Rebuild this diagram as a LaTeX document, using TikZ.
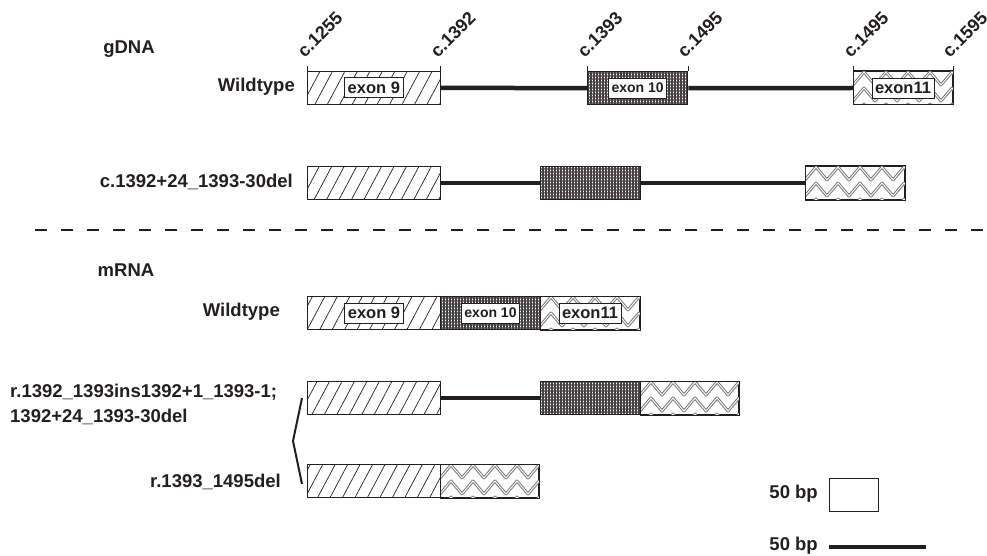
\documentclass[tikz,border=0pt]{standalone}
\usepackage{fontspec}
\setmainfont{Liberation Sans}
\usepackage{tikz}
\usetikzlibrary{patterns.meta}
\definecolor{ink}{RGB}{35,31,32}
\tikzset{
  exon/.style={draw=ink, line width=1pt, minimum height=33pt, inner sep=0pt,
               anchor=north west},
  exnine/.style={exon, preaction={fill=white},
                 pattern={Lines[angle=62, distance=11pt, line width=0.7pt]}, pattern color=ink},
  exten/.style={exon, preaction={fill=white},
                pattern={Hatch[angle=0, distance=3pt, line width=1.3pt]}, pattern color=ink!85},
  exeleven/.style={exon, fill=white},
  zig/.style={draw=ink!60, line width=1pt, double=white, double distance=0.9pt,
              line join=round},
  exlabel/.style={draw=ink, fill=white, line width=0.8pt, minimum height=20pt,
                  inner xsep=3pt, inner ysep=0pt, text=ink},
  intron/.style={draw=ink, line width=4.5pt},
  tick/.style={draw=ink, line width=0.8pt},
  rowlabel/.style={text=ink, inner sep=0pt, font=\bfseries\fontsize{18.5}{25}\selectfont},
  poslabel/.style={text=ink, inner sep=0pt, rotate=45, anchor=south west,
                   font=\bfseries\fontsize{18}{18}\selectfont},
  sep/.style={draw=ink, line width=1.4pt, dash pattern=on 12pt off 14pt},
  bracket/.style={draw=ink, line width=2pt},
}
% zigzag filling of an exon-11 box
\newcommand{\chevrons}[1]{%
  \begin{scope}
    \clip (#1.south west) rectangle (#1.north east);
    \foreach \r in {0,1,2}
      \draw[zig] ([shift={(-11,1+16*\r)}]#1.north west)
        \foreach \k in {0,...,5} { -- ([shift={(22*\k,14+16*\r)}]#1.north west)
                                   -- ([shift={(22*\k+11,1+16*\r)}]#1.north west) };
  \end{scope}
  \draw[ink, line width=1pt] (#1.south west) rectangle (#1.north east);
}
\begin{document}
\begin{tikzpicture}[x=1pt, y=-1pt]
  \clip (0,0) rectangle (987,556);

  % gDNA, wildtype
  \node[rowlabel] (gdna) at (129,49) {gDNA};
  \node[rowlabel, anchor=east] (gwt) at (295,87) {Wildtype};
  \node[exnine, minimum width=133pt] (g9) at (307,71) {};
  \node[exten, minimum width=100pt] (g10) at (587,71) {};
  \node[exeleven, minimum width=99pt] (g11) at (853,71) {};
  \chevrons{g11}
  \draw[intron] (g9.east) -- (g10.west);
  \draw[intron] (g10.east) -- (g11.west);
  \node[exlabel, font=\bfseries\fontsize{16.5}{16.5}\selectfont] (g9l) at (g9) {exon 9};
  \node[exlabel, font=\bfseries\fontsize{14}{14}\selectfont] (g10l) at (g10) {exon 10};
  \node[exlabel, font=\bfseries\fontsize{16.5}{16.5}\selectfont] (g11l) at (g11) {exon11};
  \foreach \e in {g9,g10,g11} {
    \draw[tick] (\e.north west) -- ++(0,-5);
    \draw[tick] (\e.north east) -- ++(0,-5);
  }
  \node[poslabel] (p1) at (305,59) {c.1255};
  \node[poslabel] (p2) at (438,59) {c.1392};
  \node[poslabel] (p3) at (585,59) {c.1393};
  \node[poslabel] (p4) at (685,59) {c.1495};
  \node[poslabel] (p5) at (851,59) {c.1495};
  \node[poslabel] (p6) at (950,59) {c.1595};

  % gDNA, deletion
  \node[rowlabel, anchor=east] (gdel) at (293,182) {c.1392+24\_1393-30del};
  \node[exnine, minimum width=133pt] (d9) at (307,166) {};
  \node[exten, minimum width=100pt] (d10) at (540,166) {};
  \node[exeleven, minimum width=99pt] (d11) at (805,166) {};
  \chevrons{d11}
  \draw[intron] (d9.east) -- (d10.west);
  \draw[intron] (d10.east) -- (d11.west);

  \coordinate (s1) at (35,230);
  \coordinate (s2) at (987,230);
  \draw[sep] (s1) -- (s2);

  % mRNA, wildtype
  \node[rowlabel] (mrna) at (126,270) {mRNA};
  \node[rowlabel, anchor=east] (mwt) at (280,312) {Wildtype};
  \node[exnine, minimum width=133pt] (m9) at (307,296) {};
  \node[exten, minimum width=100pt] (m10) at (440,296) {};
  \node[exeleven, minimum width=99pt] (m11) at (540,296) {};
  \chevrons{m11}
  \node[exlabel, font=\bfseries\fontsize{16.5}{16.5}\selectfont] (m9l) at (m9) {exon 9};
  \node[exlabel, font=\bfseries\fontsize{14}{14}\selectfont] (m10l) at (m10) {exon 10};
  \node[exlabel, font=\bfseries\fontsize{16.5}{16.5}\selectfont] (m11l) at (m11) {exon11};

  % mRNA, retained intron
  \node[rowlabel, anchor=west, align=left] (mins) at (10,404)
    {r.1392\_1393ins1392+1\_1393-1;\\1392+24\_1393-30del};
  \node[exnine, minimum width=133pt] (a9) at (307,381) {};
  \node[exten, minimum width=100pt] (a10) at (540,381) {};
  \node[exeleven, minimum width=98pt] (a11) at (640,381) {};
  \chevrons{a11}
  \draw[intron] (a9.east) -- (a10.west);

  % mRNA, skipped exon
  \node[rowlabel, anchor=east] (mdel) at (281,482) {r.1393\_1495del};
  \node[exnine, minimum width=133pt] (b9) at (307,464) {};
  \node[exeleven, minimum width=98pt] (b11) at (440,464) {};
  \chevrons{b11}

  \coordinate (br1) at (302,398);
  \coordinate (br2) at (293,441);
  \coordinate (br3) at (302,484);
  \draw[bracket] (br1) -- (br2) -- (br3);

  % scale
  \node[rowlabel, anchor=east] (sbp) at (818,494) {50 bp};
  \node[exon, minimum width=49pt, fill=white] (sbox) at (829,478) {};
  \node[rowlabel, anchor=east] (lbp) at (818,546) {50 bp};
  \coordinate (l1) at (829,547);
  \coordinate (l2) at (926,547);
  \draw[intron] (l1) -- (l2);
\end{tikzpicture}
\end{document}
